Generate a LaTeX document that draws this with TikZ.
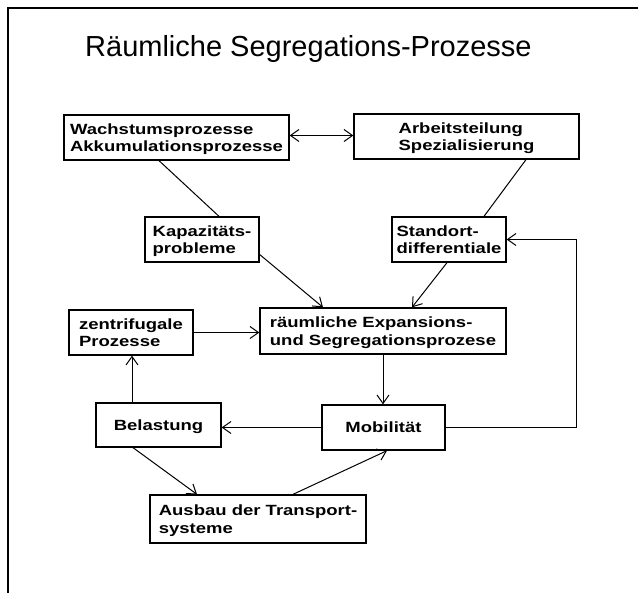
\documentclass[tikz,border=0pt]{standalone}
\usepackage{fontspec}
\setmainfont{Liberation Sans}
\newfontfamily\boxfont[FakeStretch=1.25]{Liberation Sans Bold}
\usetikzlibrary{arrows.meta}
\begin{document}
\begin{tikzpicture}[x=1pt,y=-1pt,
  box/.style={draw,line width=1.3pt,align=left,inner sep=0pt,text depth=0pt,
    font=\boxfont\fontsize{14.8}{17.5}\selectfont},
  conn/.style={line width=1pt},
  arr/.style={line width=1pt,-{Straight Barb[length=8.5pt,width=12pt]}},
  darr/.style={line width=1pt,{Straight Barb[length=8.5pt,width=12pt]}-{Straight Barb[length=8.5pt,width=12pt]}}]
\useasboundingbox (0,0) rectangle (638,593);
\draw[line width=1.2pt] (638,8) -- (8,8) -- (8,593);
\node[anchor=base west,inner sep=0pt,font=\fontsize{29}{34}\selectfont] (title) at (85,57) {Räumliche Segregations-Prozesse};
\node[box,minimum width=225pt,minimum height=45pt] (wach) at (176.5,137.5) {Wachstumsprozesse\\Akkumulationsprozesse};
\node[box,minimum width=225pt,minimum height=45pt] (arb) at (466.5,136.5) {Arbeitsteilung\\Spezialisierung};
\node[box,minimum width=114pt,minimum height=45pt] (kap) at (202,239.5) {Kapazitäts-\\probleme};
\node[box,minimum width=114pt,minimum height=45pt] (std) at (449,239.5) {Standort-\\differentiale};
\node[box,minimum width=124pt,minimum height=45pt] (zen) at (131,332.5) {zentrifugale\\Prozesse};
\node[box,minimum width=246pt,minimum height=46pt] (rae) at (383,331) {räumliche Expansions-\\und Segregationsprozese};
\node[box,minimum width=125pt,minimum height=44pt] (bel) at (158.5,425) {Belastung};
\node[box,minimum width=123pt,minimum height=45pt] (mob) at (383.5,427.5) {Mobilität};
\node[box,minimum width=216pt,minimum height=48pt] (aus) at (258,519) {Ausbau der Transport-\\systeme};
\coordinate (c1) at (576,427.5);
\coordinate (c2) at (576,239.5);
\draw[darr] ([yshift=2pt]wach.east) -- ([yshift=2pt]wach.east -| arb.west);
\draw[conn] ([xshift=-17.5pt]wach.south) -- ([xshift=17pt]kap.north);
\draw[conn] ([xshift=59.5pt]arb.south) -- ([xshift=35pt]std.north);
\draw[arr] ([yshift=-15pt]kap.east) -- ([xshift=-60pt]rae.north);
\draw[arr] ([xshift=-2pt]std.south) -- ([xshift=29pt]rae.north);
\draw[arr] (zen.east) -- (zen.east -| rae.west);
\draw[arr] (rae.south) -- (rae.south |- mob.north);
\draw[arr] (mob.west) -- (mob.west -| bel.east);
\draw[arr] ([xshift=-26.5pt]bel.north) -- ([xshift=-26.5pt]bel.north |- zen.south);
\draw[arr] (mob.east) -- (c1) -- (c2) -- (std.east);
\draw[arr] ([xshift=-25.5pt]bel.south) -- ([xshift=-61pt]aus.north);
\draw[arr] ([xshift=35pt]aus.north) -- ([xshift=3.5pt]mob.south);
\end{tikzpicture}
\end{document}
